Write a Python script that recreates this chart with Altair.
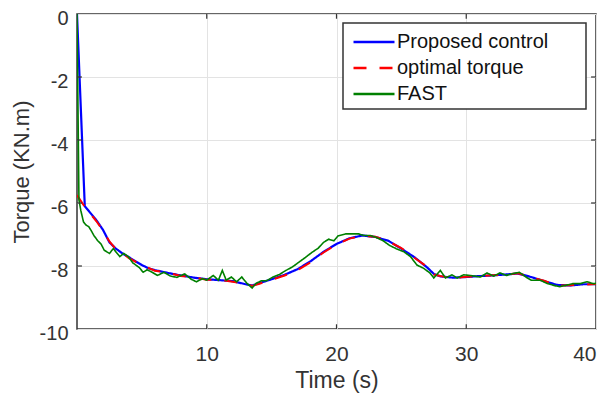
import altair as alt
import pandas as pd

# ---- data ----
series = ["Proposed control", "optimal torque", "FAST"]
colors = ["#0000ff", "#ff0000", "#008000"]

t_prop = [0, 0.6, 1.0, 1.5, 2.0, 2.5, 3.0, 3.5, 4.0, 4.5, 5.0, 5.5, 6, 7, 8, 9, 10, 11, 12, 13,
          13.5, 14, 15, 16, 17, 18, 19, 20, 21, 22, 23, 24, 25, 26, 27, 27.5, 28, 29, 30, 31,
          32, 33, 34, 35, 36, 37, 38, 39, 40]
v_prop = [0, -6.1, -6.3, -6.55, -6.85, -7.25, -7.45, -7.6, -7.72, -7.85, -7.97, -8.07, -8.13,
          -8.22, -8.3, -8.37, -8.42, -8.45, -8.48, -8.58, -8.62, -8.55, -8.42, -8.28, -8.1,
          -7.85, -7.55, -7.3, -7.12, -7.03, -7.08, -7.2, -7.45, -7.72, -8.05, -8.25, -8.33,
          -8.37, -8.35, -8.32, -8.3, -8.27, -8.24, -8.35, -8.48, -8.6, -8.62, -8.58, -8.58]

t_opt = [0, 0.6, 1.0, 1.5, 2.0, 2.5, 3.0, 3.5, 4.0, 4.5, 5.0, 5.5, 6, 7, 8, 9, 10, 11, 12, 13,
         13.5, 14, 15, 16, 17, 18, 19, 20, 21, 22, 23, 24, 25, 26, 27, 27.5, 28, 29, 30, 31,
         32, 33, 34, 35, 36, 37, 38, 39, 40]
v_opt = [-5.75, -6.12, -6.33, -6.58, -6.88, -7.22, -7.47, -7.58, -7.75, -7.86, -7.99, -8.06,
         -8.15, -8.21, -8.32, -8.36, -8.44, -8.44, -8.5, -8.57, -8.63, -8.57, -8.44, -8.3,
         -8.13, -7.88, -7.57, -7.32, -7.13, -7.04, -7.07, -7.22, -7.43, -7.74, -8.03, -8.27,
         -8.32, -8.39, -8.34, -8.33, -8.29, -8.28, -8.23, -8.36, -8.47, -8.62, -8.61, -8.6,
         -8.57]

t_fast = [0, 0.15, 0.3, 0.5, 0.7, 0.9, 1.1, 1.3, 1.6, 1.85, 2.1, 2.5, 2.8, 3.1, 3.3, 3.6, 3.95,
          4.3, 4.8, 5.1, 5.4, 5.8, 6.2, 6.7, 7.2, 7.7, 8.3, 8.8, 9.2, 9.7, 10.0, 10.5, 10.9,
          11.2, 11.5, 11.9, 12.3, 12.7, 13.1, 13.5, 13.8, 14.2, 14.6, 15.1, 15.6, 16.1, 16.6,
          17.1, 17.6, 18.1, 18.6, 19.0, 19.4, 19.8, 20.1, 20.7, 21.2, 21.7, 22.1, 22.6, 23.1,
          23.6, 24.1, 24.6, 25.2, 25.7, 26.2, 26.7, 27.2, 27.5, 28.0, 28.4, 28.9, 29.3, 29.8,
          30.3, 31.1, 31.6, 32.1, 32.6, 33.1, 33.6, 34.1, 34.6, 35.0, 35.7, 36.2, 36.7, 37.2,
          37.7, 38.2, 38.8, 39.3, 39.8, 40]
v_fast = [0, -5.9, -6.25, -6.6, -6.7, -6.75, -6.88, -7.03, -7.2, -7.3, -7.5, -7.6, -7.45,
          -7.6, -7.7, -7.6, -7.7, -7.9, -8.05, -8.2, -8.12, -8.2, -8.3, -8.2, -8.32, -8.36,
          -8.25, -8.42, -8.5, -8.4, -8.45, -8.3, -8.45, -8.14, -8.45, -8.35, -8.5, -8.35,
          -8.55, -8.7, -8.55, -8.47, -8.47, -8.35, -8.27, -8.14, -8.03, -7.88, -7.73, -7.57,
          -7.43, -7.25, -7.15, -7.2, -7.05, -6.98, -6.98, -6.98, -7.03, -7.03, -7.1, -7.2,
          -7.35, -7.45, -7.55, -7.7, -7.97, -8.07, -8.22, -8.38, -8.14, -8.38, -8.28, -8.38,
          -8.28, -8.3, -8.35, -8.22, -8.32, -8.22, -8.3, -8.24, -8.2, -8.35, -8.45, -8.45,
          -8.55, -8.61, -8.66, -8.61, -8.56, -8.56, -8.5, -8.56, -8.55]

x_ticks = [10, 20, 30, 40]
y_ticks = [-10, -8, -6, -4, -2, 0]

# ---- tables ----
def frame(name, ts, vs):
    return pd.DataFrame({"series": name, "t": ts, "v": vs, "k": range(len(ts))})

df_prop = frame(series[0], t_prop, v_prop)
df_opt = frame(series[1], t_opt, v_opt)
df_fast = frame(series[2], t_fast, v_fast)

FONT = "Liberation Sans"
TXT = "#333333"

xs = alt.Scale(domain=[0, 40], nice=False, zero=False)
ys = alt.Scale(domain=[-10, 0], nice=False, zero=False)

color = alt.Color(
    "series:N",
    scale=alt.Scale(domain=series, range=colors),
    legend=alt.Legend(
        title=None, orient="none", legendX=275, legendY=18,
        symbolType="stroke", symbolSize=1681, symbolStrokeWidth=2.5,
        labelFont=FONT, labelFontSize=20, labelColor="#111111",
        labelOffset=1, rowPadding=6, padding=0, clipHeight=20,
    ),
)
dash = alt.StrokeDash(
    "series:N",
    scale=alt.Scale(domain=series, range=[[1, 0], [13, 13], [1, 0]]),
    legend=None,
)

x_enc = alt.X(
    "t:Q", scale=xs, title="Time (s)",
    axis=alt.Axis(values=x_ticks, labelExpr="'' + datum.value", labelPadding=14,
                  titlePadding=5),
)
y_enc = alt.Y(
    "v:Q", scale=ys, title="Torque (KN.m)",
    axis=alt.Axis(values=y_ticks, labelExpr="'' + datum.value", labelPadding=9,
                  labelOffset=4, labelFontSize=20, titlePadding=6, titleFontSize=22),
)

def line(df, width):
    return alt.Chart(df).mark_line(strokeWidth=width, clip=True).encode(
        x=x_enc, y=y_enc, color=color, strokeDash=dash, order="k:Q"
    )

# inward ticks on all four sides
tick_bottom = pd.DataFrame({"a": [10, 20, 30], "b": -10, "c": -9.85})
tick_top = pd.DataFrame({"a": [10, 20, 30], "b": 0, "c": -0.15})
tick_left = pd.DataFrame({"a": [-8, -6, -4, -2], "b": 0, "c": 0.38})
tick_right = pd.DataFrame({"a": [-8, -6, -4, -2], "b": 40, "c": 39.62})

def vticks(df):
    return alt.Chart(df).mark_rule(color="#333333", strokeWidth=1.2).encode(
        x=alt.X("a:Q", scale=xs), y=alt.Y("b:Q", scale=ys), y2="c:Q")

def hticks(df):
    return alt.Chart(df).mark_rule(color="#333333", strokeWidth=1.2).encode(
        y=alt.Y("a:Q", scale=ys), x=alt.X("b:Q", scale=xs), x2="c:Q")

legend_box = alt.Chart(pd.DataFrame({"z": [0]})).mark_rect(
    fill="white", stroke="#333333", strokeWidth=1.5
).encode(x=alt.value(266), x2=alt.value(509), y=alt.value(9), y2=alt.value(95))

chart = alt.layer(
    line(df_prop, 2.2),
    line(df_opt, 2.0),
    line(df_fast, 1.6),
    vticks(tick_bottom), vticks(tick_top), hticks(tick_left), hticks(tick_right),
    legend_box,
).properties(
    width=519, height=315,
    autosize=alt.AutoSizeParams(type="none"),
    padding={"left": 69, "top": 6, "right": 4, "bottom": 67},
).configure_view(
    stroke="#333333", strokeWidth=1.5
).configure_axis(
    grid=True, gridColor="#e3e3e3", gridWidth=1, domain=False, ticks=False,
    labelFont=FONT, labelFontSize=21, labelColor=TXT,
    titleFont=FONT, titleFontSize=23, titleFontWeight="normal", titleColor=TXT,
)

chart.save("out.html", embed_options={"renderer": "svg", "actions": False})
